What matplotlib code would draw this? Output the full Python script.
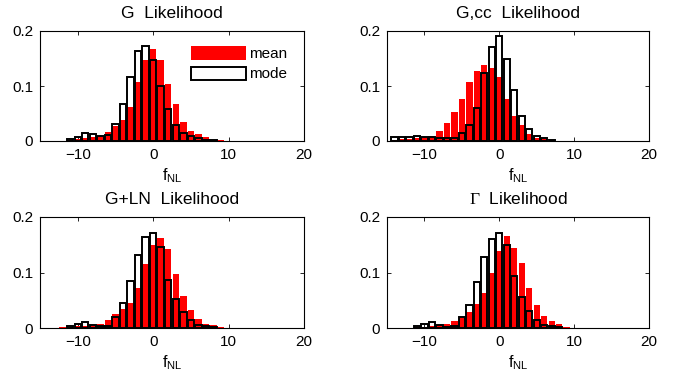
import matplotlib
matplotlib.use("Agg")
import matplotlib.pyplot as plt
from matplotlib.patches import Patch

plt.rcParams['font.family'] = ['Liberation Sans', 'DejaVu Sans']
plt.rcParams['mathtext.fontset'] = 'custom'
plt.rcParams['mathtext.rm'] = 'Liberation Serif'
plt.rcParams['mathtext.sf'] = 'Liberation Sans'

# G likelihood
g_x_mean = list(range(-11, 10))
g_mean = [0.002, 0.004, 0.006, 0.007, 0.010, 0.017, 0.028, 0.038, 0.061, 0.107,
          0.147, 0.168, 0.147, 0.103, 0.067, 0.034, 0.018, 0.012, 0.008, 0.002, 0.001]
g_x_mode = list(range(-11, 9))
g_mode = [0.004, 0.007, 0.015, 0.013, 0.009, 0.011, 0.031, 0.067, 0.117, 0.164,
          0.173, 0.148, 0.100, 0.058, 0.029, 0.015, 0.010, 0.005, 0.002, 0.001]

# G,cc likelihood
gcc_x_mean = list(range(-14, 8))
gcc_mean = [0.002, 0.003, 0.004, 0.005, 0.006, 0.009, 0.018, 0.032, 0.052, 0.076,
            0.107, 0.127, 0.138, 0.133, 0.116, 0.076, 0.045, 0.029, 0.012, 0.005,
            0.003, 0.001]
gcc_x_mode = list(range(-14, 8))
gcc_mode = [0.007, 0.008, 0.008, 0.0085, 0.008, 0.008, 0.006, 0.005, 0.005, 0.015,
            0.029, 0.060, 0.124, 0.171, 0.191, 0.150, 0.092, 0.046, 0.022, 0.0085,
            0.005, 0.002]

# G+LN likelihood
gln_x_mean = list(range(-12, 10))
gln_mean = [0.001, 0.002, 0.003, 0.004, 0.006, 0.007, 0.014, 0.025, 0.034, 0.045,
            0.072, 0.116, 0.150, 0.163, 0.142, 0.097, 0.057, 0.032, 0.016, 0.008,
            0.005, 0.001]
gln_x_mode = list(range(-11, 9))
gln_mode = [0.004, 0.008, 0.010, 0.006, 0.004, 0.004, 0.019, 0.045, 0.085, 0.132,
            0.164, 0.171, 0.146, 0.087, 0.052, 0.028, 0.014, 0.006, 0.003, 0.001]

# Gamma likelihood
gam_x_mean = list(range(-11, 10))
gam_mean = [0.001, 0.002, 0.003, 0.005, 0.007, 0.012, 0.018, 0.029, 0.044, 0.063,
            0.100, 0.138, 0.166, 0.145, 0.117, 0.072, 0.041, 0.022, 0.012, 0.007, 0.002]
gam_x_mode = list(range(-11, 9))
gam_mode = [0.004, 0.008, 0.010, 0.005, 0.002, 0.003, 0.020, 0.042, 0.082, 0.128,
            0.160, 0.172, 0.150, 0.093, 0.055, 0.031, 0.015, 0.006, 0.003, 0.001]

titles = ['G  Likelihood', 'G,cc  Likelihood', 'G+LN  Likelihood', r'$\Gamma$  Likelihood']
panels = [(g_x_mean, g_mean, g_x_mode, g_mode),
          (gcc_x_mean, gcc_mean, gcc_x_mode, gcc_mode),
          (gln_x_mean, gln_mean, gln_x_mode, gln_mode),
          (gam_x_mean, gam_mean, gam_x_mode, gam_mode)]

fig = plt.figure(figsize=(6.83, 3.76), dpi=100)
W, H = 683, 376
boxes = [(40, 31, 304, 141), (387, 31, 649, 141),
         (40, 217, 304, 328), (387, 217, 649, 328)]

for (l, t, r, b), title, (xm, ym, xo, yo) in zip(boxes, titles, panels):
    ax = fig.add_axes([l / W, 1 - b / H, (r - l) / W, (b - t) / H])
    ax.bar(xm, ym, width=0.85, color='#ff0000', edgecolor='none', zorder=2)
    ax.bar(xo, yo, width=0.85, facecolor='none', edgecolor='black',
           linewidth=1.4, zorder=3)
    ax.set_xlim(-15, 20)
    ax.set_ylim(0, 0.2)
    ax.set_xticks([-10, 0, 10, 20])
    ax.set_yticks([0, 0.1, 0.2])
    ax.set_yticklabels(['0', '0.1', '0.2'])
    ax.tick_params(direction='in', top=True, right=True, labelsize=11,
                   length=3, width=0.6, pad=5)
    for s in ax.spines.values():
        s.set_linewidth(0.8)
    ax.set_title(title, fontsize=12.5, pad=9)
    ax.set_xlabel(r'f$_{\mathsf{NL}}$', fontsize=11.5, labelpad=3)
    if title.startswith('G  '):
        handles = [Patch(facecolor='#ff0000', edgecolor='none'),
                   Patch(facecolor='white', edgecolor='black', linewidth=1.4)]
        ax.legend(handles, ['mean', 'mode'], loc='upper right', frameon=False,
                  fontsize=11, handlelength=3.6, handleheight=0.95,
                  handletextpad=0.2, labelspacing=0.35,
                  bbox_to_anchor=(0.99, 0.985))

fig.savefig('out.png', dpi=100)
